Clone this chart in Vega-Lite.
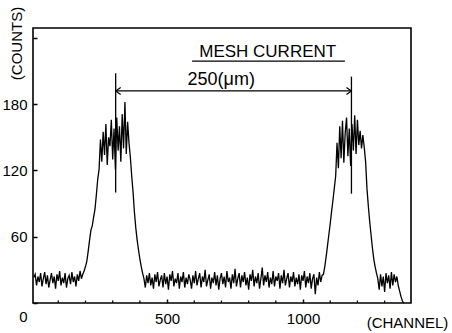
{
 "$schema": "https://vega.github.io/schema/vega-lite/v6.json",
 "width": 378,
 "height": 275,
 "autosize": {"type": "none"},
 "padding": {"left": 33, "top": 28, "right": 41, "bottom": 30},
 "background": "white",
 "config": {"view": {"stroke": "black", "strokeWidth": 1.6}, "font": "Liberation Sans"},
 "layer": [
  {
   "data": {"values": [
    {"c":10,"v":23},{"c":15,"v":26},{"c":20,"v":16},{"c":25,"v":24},{"c":30,"v":19},{"c":35,"v":27},{"c":40,"v":15},{"c":45,"v":22},{"c":50,"v":28},{"c":55,"v":17},{"c":60,"v":25},{"c":65,"v":14},{"c":70,"v":21},{"c":75,"v":27},{"c":80,"v":18},{"c":85,"v":24},{"c":90,"v":13},{"c":95,"v":26},{"c":100,"v":20},{"c":105,"v":29},{"c":110,"v":16},{"c":115,"v":23},{"c":120,"v":18},{"c":125,"v":27},{"c":130,"v":14},{"c":135,"v":22},{"c":140,"v":25},{"c":145,"v":17},{"c":150,"v":28},{"c":155,"v":19},{"c":160,"v":24},{"c":165,"v":15},{"c":170,"v":26},{"c":175,"v":20},{"c":180,"v":29},{"c":185,"v":22},
    {"c":190,"v":26},{"c":195,"v":29},{"c":200,"v":33},{"c":205,"v":38},{"c":210,"v":47},{"c":215,"v":57},{"c":220,"v":66},{"c":225,"v":70},{"c":230,"v":78},{"c":235,"v":85},{"c":240,"v":98},{"c":245,"v":112},{"c":250,"v":121},
    {"c":255,"v":148},{"c":260,"v":128},{"c":265,"v":155},{"c":270,"v":134},{"c":275,"v":162},{"c":280,"v":125},{"c":285,"v":150},{"c":290,"v":142},{"c":295,"v":166},{"c":300,"v":130},{"c":305,"v":158},{"c":310,"v":121},{"c":315,"v":168},{"c":320,"v":138},{"c":325,"v":160},{"c":330,"v":128},{"c":335,"v":171},{"c":340,"v":140},{"c":345,"v":182},{"c":350,"v":135},{"c":355,"v":164},{"c":360,"v":145},
    {"c":365,"v":132},{"c":370,"v":115},{"c":375,"v":100},{"c":380,"v":82},{"c":385,"v":68},{"c":390,"v":57},{"c":395,"v":48},{"c":400,"v":40},{"c":405,"v":33},{"c":410,"v":27},
    {"c":415,"v":22},{"c":420,"v":14},{"c":425,"v":25},{"c":430,"v":18},{"c":435,"v":27},{"c":440,"v":16},{"c":445,"v":23},{"c":450,"v":13},{"c":455,"v":26},{"c":460,"v":19},{"c":465,"v":28},{"c":470,"v":15},{"c":475,"v":21},{"c":480,"v":25},{"c":485,"v":14},{"c":490,"v":27},{"c":495,"v":17},{"c":500,"v":24},{"c":505,"v":12},{"c":510,"v":26},{"c":515,"v":20},{"c":520,"v":29},{"c":525,"v":15},{"c":530,"v":22},{"c":535,"v":18},{"c":540,"v":27},{"c":545,"v":13},{"c":550,"v":24},{"c":555,"v":19},{"c":560,"v":28},{"c":565,"v":14},{"c":570,"v":23},{"c":575,"v":17},{"c":580,"v":26},{"c":585,"v":21},{"c":590,"v":13},{"c":595,"v":25},{"c":600,"v":18},{"c":605,"v":29},{"c":610,"v":16},{"c":615,"v":22},{"c":620,"v":27},{"c":625,"v":14},{"c":630,"v":24},{"c":635,"v":19},{"c":640,"v":30},{"c":645,"v":15},{"c":650,"v":21},{"c":655,"v":26},{"c":660,"v":13},{"c":665,"v":23},{"c":670,"v":18},{"c":675,"v":28},{"c":680,"v":16},{"c":685,"v":25},{"c":690,"v":12},{"c":695,"v":22},{"c":700,"v":27},{"c":705,"v":17},{"c":710,"v":24},{"c":715,"v":14},{"c":720,"v":29},{"c":725,"v":19},{"c":730,"v":23},{"c":735,"v":13},{"c":740,"v":26},{"c":745,"v":18},{"c":750,"v":31},{"c":755,"v":15},{"c":760,"v":22},{"c":765,"v":27},{"c":770,"v":14},{"c":775,"v":25},{"c":780,"v":19},{"c":785,"v":28},{"c":790,"v":16},{"c":795,"v":23},{"c":800,"v":12},{"c":805,"v":26},{"c":810,"v":20},{"c":815,"v":30},{"c":820,"v":15},{"c":825,"v":24},{"c":830,"v":18},{"c":835,"v":27},{"c":840,"v":13},{"c":845,"v":22},{"c":850,"v":32},{"c":855,"v":16},{"c":860,"v":25},{"c":865,"v":19},{"c":870,"v":28},{"c":875,"v":14},{"c":880,"v":23},{"c":885,"v":17},{"c":890,"v":29},{"c":895,"v":15},{"c":900,"v":24},{"c":905,"v":20},{"c":910,"v":27},{"c":915,"v":13},{"c":920,"v":25},{"c":925,"v":18},{"c":930,"v":30},{"c":935,"v":16},{"c":940,"v":22},{"c":945,"v":27},{"c":950,"v":14},{"c":955,"v":24},{"c":960,"v":19},{"c":965,"v":28},{"c":970,"v":15},{"c":975,"v":23},{"c":980,"v":17},{"c":985,"v":26},{"c":990,"v":12},{"c":995,"v":25},{"c":1000,"v":20},{"c":1005,"v":29},{"c":1010,"v":14},{"c":1015,"v":24},{"c":1020,"v":18},{"c":1025,"v":27},{"c":1030,"v":13},{"c":1035,"v":22},{"c":1040,"v":26},{"c":1045,"v":8},{"c":1050,"v":23},{"c":1055,"v":16},{"c":1060,"v":28},{"c":1065,"v":19},{"c":1070,"v":25},
    {"c":1075,"v":26},{"c":1080,"v":33},{"c":1085,"v":42},{"c":1090,"v":52},{"c":1095,"v":62},{"c":1100,"v":72},{"c":1105,"v":83},{"c":1110,"v":93},{"c":1115,"v":104},{"c":1120,"v":115},
    {"c":1125,"v":145},{"c":1130,"v":122},{"c":1135,"v":160},{"c":1140,"v":131},{"c":1145,"v":165},{"c":1150,"v":127},{"c":1155,"v":154},{"c":1160,"v":168},{"c":1165,"v":133},{"c":1170,"v":158},{"c":1175,"v":124},{"c":1180,"v":162},{"c":1185,"v":138},{"c":1190,"v":170},{"c":1195,"v":135},{"c":1200,"v":166},{"c":1205,"v":143},{"c":1210,"v":156},{"c":1215,"v":140},{"c":1220,"v":152},{"c":1225,"v":141},
    {"c":1230,"v":128},{"c":1235,"v":104},{"c":1240,"v":88},{"c":1245,"v":74},{"c":1250,"v":62},{"c":1255,"v":50},{"c":1260,"v":40},{"c":1265,"v":33},{"c":1270,"v":27},
    {"c":1275,"v":22},{"c":1280,"v":12},{"c":1285,"v":26},{"c":1290,"v":15},{"c":1295,"v":24},{"c":1300,"v":10},{"c":1305,"v":27},{"c":1310,"v":18},{"c":1315,"v":25},{"c":1320,"v":13},{"c":1325,"v":28},{"c":1330,"v":16},{"c":1335,"v":26},{"c":1340,"v":19},{"c":1345,"v":24},
    {"c":1350,"v":16},{"c":1355,"v":11},{"c":1360,"v":6},{"c":1365,"v":2},{"c":1370,"v":0}
   ]},
   "mark": {"type": "line", "color": "black", "strokeWidth": 1.3},
   "encoding": {
    "x": {"field": "c", "type": "quantitative", "scale": {"domain": [7, 1397], "nice": false, "zero": false},
     "axis": {"values": [500, 1000], "format": "d",
      "labelOverlap": false, "labelFlush": false,
      "tickSize": -4, "tickColor": "black", "tickWidth": 1.5, "domain": false, "grid": false,
      "labelFontSize": 15, "labelColor": "black", "labelPadding": 12,
      "title": "(CHANNEL)", "titleFontSize": 15, "titleFontWeight": "normal", "titleColor": "black",
      "titleX": 374, "titleY": 19, "titleAlign": "center", "titleBaseline": "middle"}},
    "y": {"field": "v", "type": "quantitative", "scale": {"domain": [0, 249], "nice": false},
     "axis": {"values": [0, 60, 120, 180, 240],
      "labelExpr": "datum.value == 240 ? '' : datum.label",
      "labelOverlap": false,
      "tickSize": -4, "tickColor": "black", "tickWidth": 1.5, "domain": false, "grid": false,
      "labelFontSize": 15, "labelColor": "black", "labelPadding": 10,
      "labelOffset": {"condition": {"test": "datum.value == 0", "value": 13}, "value": 0},
      "title": "(COUNTS)", "titleFontSize": 15, "titleFontWeight": "normal", "titleColor": "black",
      "titleX": -17, "titleY": 15, "titleAngle": 270, "titleAlign": "center", "titleBaseline": "middle"}}
   }
  },
  {
   "data": {"values": [{"c":100},{"c":200},{"c":300},{"c":400},{"c":600},{"c":700},{"c":800},{"c":900},{"c":1100},{"c":1200},{"c":1300}]},
   "mark": {"type": "rule", "color": "black", "strokeWidth": 1.3},
   "encoding": {"x": {"field": "c", "type": "quantitative"}, "y": {"datum": 0, "type": "quantitative"}, "y2": {"datum": 2.2}}
  },
  {
   "data": {"values": [{"c": 311, "v": 100, "v2": 208}, {"c": 1178, "v": 99, "v2": 205}]},
   "mark": {"type": "rule", "color": "black", "strokeWidth": 1.3},
   "encoding": {"x": {"field": "c", "type": "quantitative"}, "y": {"field": "v", "type": "quantitative"}, "y2": {"field": "v2"}}
  },
  {
   "data": {"values": [{"c": 311, "c2": 1178, "v": 192}, {"c": 592, "c2": 1154, "v": 219}]},
   "mark": {"type": "rule", "color": "black", "strokeWidth": 1.3},
   "encoding": {"x": {"field": "c", "type": "quantitative"}, "x2": {"field": "c2"}, "y": {"field": "v", "type": "quantitative"}}
  },
  {
   "data": {"values": [{"c": 311, "v": 192, "d": "L"}, {"c": 1178, "v": 192, "d": "R"}]},
   "mark": {"type": "point", "filled": false, "stroke": "black", "strokeWidth": 1.2, "size": 100, "opacity": 1},
   "encoding": {"x": {"field": "c", "type": "quantitative"}, "y": {"field": "v", "type": "quantitative"},
    "shape": {"field": "d", "type": "nominal", "scale": {"domain": ["L", "R"], "range": ["M0,0L1,-0.7M0,0L1,0.7", "M0,0L-1,-0.7M0,0L-1,0.7"]}, "legend": null}}
  },
  {
   "data": {"values": [{"c": 870, "v": 227, "t": "MESH CURRENT", "s": 17}, {"c": 699, "v": 202, "t": "250(μm)", "s": 18}]},
   "mark": {"type": "text", "color": "black", "font": "Liberation Sans", "baseline": "middle", "align": "center"},
   "encoding": {"x": {"field": "c", "type": "quantitative"}, "y": {"field": "v", "type": "quantitative"}, "text": {"field": "t"},
    "size": {"field": "s", "type": "quantitative", "scale": null}}
  }
 ]
}
